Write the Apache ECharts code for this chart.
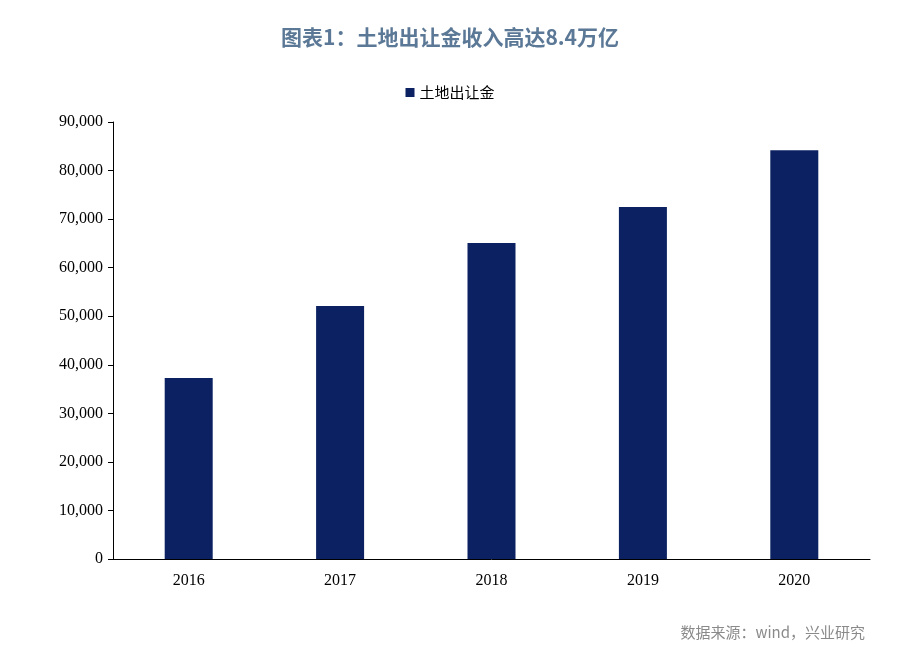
<!DOCTYPE html>
<html>
<head>
<meta charset="utf-8">
<script src="https://cdn.jsdelivr.net/npm/echarts@6/dist/echarts.min.js"></script>
<style>html,body{margin:0;padding:0;background:#fff}</style>
</head>
<body>
<div id="chart" style="width:900px;height:654px;"></div>
<script>
var years = ['2016', '2017', '2018', '2019', '2020'];
var landRevenue = [37300, 52100, 65100, 72500, 84200];
var seriesName = '土地出让金';

var chart = echarts.init(document.getElementById('chart'));
chart.setOption({
    backgroundColor: '#fff',
    title: [{
        text: '图表1：土地出让金收入高达8.4万亿',
        left: 'center', top: 22,
        textStyle: { color: '#5b7896', fontSize: 21, fontWeight: 'bold', fontFamily: 'Noto Sans CJK SC' }
    }, {
        text: '数据来源：wind，兴业研究',
        right: 30, top: 620,
        textStyle: { color: '#8a8a8a', fontSize: 15, fontWeight: 'normal', fontFamily: 'Noto Sans CJK SC' }
    }],
    legend: {
        data: [seriesName], top: 80, left: 'center',
        icon: 'rect', itemWidth: 9, itemHeight: 9,
        textStyle: { color: '#000', fontSize: 15, fontFamily: 'Noto Sans CJK SC' }
    },
    grid: { left: 113, right: 30, top: 122, bottom: 95 },
    xAxis: {
        type: 'category', data: years,
        axisLine: { lineStyle: { color: '#000' } },
        axisTick: { inside: true, length: 5, lineStyle: { color: '#000' } },
        axisLabel: { color: '#000', fontSize: 16, fontFamily: 'Liberation Serif', margin: 14 }
    },
    yAxis: {
        type: 'value', min: 0, max: 90000, interval: 10000,
        splitLine: { show: false },
        axisLine: { show: true, lineStyle: { color: '#000' } },
        axisTick: { show: true, length: 5, lineStyle: { color: '#000' } },
        axisLabel: {
            color: '#000', fontSize: 16, fontFamily: 'Liberation Serif', margin: 10,
            formatter: function (v) { return v.toLocaleString('en-US'); }
        }
    },
    series: [{
        name: seriesName, type: 'bar', data: landRevenue,
        barWidth: 48, itemStyle: { color: '#0b2161' }
    }]
});
</script>
</body>
</html>
